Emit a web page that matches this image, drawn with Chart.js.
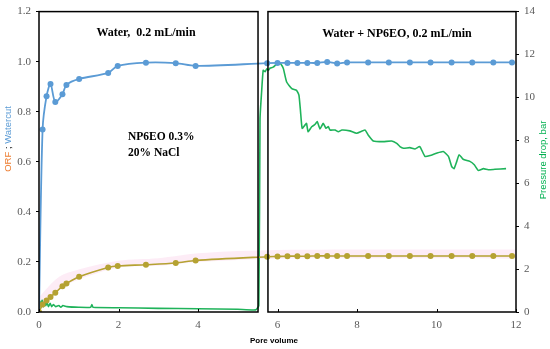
<!DOCTYPE html>
<html><head><meta charset="utf-8">
<script src="https://cdn.jsdelivr.net/npm/chart.js@4/dist/chart.umd.min.js"></script>
<style>html,body{margin:0;padding:0;background:#fff;}canvas{display:block;}</style>
</head><body>
<canvas id="c" width="550" height="349"></canvas>
<script>
// ---- data ----
const xTickValues = [0, 2, 4, 6, 8, 10, 12];
const leftTickValues = [0, 0.2, 0.4, 0.6, 0.8, 1.0, 1.2];
const rightTickValues = [0, 2, 4, 6, 8, 10, 12, 14];

const watercutPV = [0, 0.09, 0.19, 0.29, 0.41, 0.59, 0.69, 1.01, 1.74, 1.98, 2.69, 3.44, 3.94, 5.74, 6.0, 6.25, 6.5, 6.75, 7.0, 7.25, 7.5, 7.75, 8.28, 8.8, 9.33, 9.85, 10.38, 10.9, 11.43, 11.9];
const watercut   = [0, 0.729, 0.862, 0.911, 0.839, 0.870, 0.907, 0.931, 0.955, 0.983, 0.996, 0.994, 0.983, 0.994, 0.995, 0.995, 0.995, 0.995, 0.995, 0.999, 0.993, 0.997, 0.997, 0.997, 0.997, 0.997, 0.997, 0.997, 0.997, 0.997];

const orfPV = [0, 0.09, 0.19, 0.29, 0.41, 0.59, 0.69, 1.01, 1.74, 1.98, 2.69, 3.44, 3.94, 5.74, 6.0, 6.25, 6.5, 6.75, 7.0, 7.25, 7.5, 7.75, 8.28, 8.8, 9.33, 9.85, 10.38, 10.9, 11.43, 11.9];
const orf   = [0, 0.030, 0.046, 0.060, 0.077, 0.103, 0.114, 0.141, 0.178, 0.184, 0.189, 0.196, 0.206, 0.221, 0.222, 0.223, 0.223, 0.223, 0.224, 0.224, 0.224, 0.224, 0.224, 0.224, 0.224, 0.224, 0.224, 0.224, 0.224, 0.224];

const bandPV    = [0, 0.5, 1.0, 2.0, 3.0, 4.0, 6.0, 12.0];
const bandUpper = [0.06, 0.14, 0.17, 0.205, 0.215, 0.235, 0.248, 0.25];
const bandLower = [0.0, 0.09, 0.13, 0.178, 0.185, 0.2, 0.213, 0.213];

const pressurePV = [0, 0.02, 0.05, 0.08, 0.11, 0.14, 0.17, 0.2, 0.24, 0.28, 0.32, 0.36, 0.42, 0.5, 0.55, 0.6, 0.7, 1.0, 1.3, 1.33, 1.36, 2.0, 3.0, 4.0, 5.0, 5.45, 5.53,
  5.56, 5.60, 5.64, 5.69, 5.73, 5.77, 5.81, 5.89, 5.98, 6.05, 6.11, 6.15, 6.23, 6.36, 6.48, 6.54, 6.58, 6.62, 6.69, 6.73, 6.77, 6.86, 6.94, 7.0, 7.07, 7.15, 7.22, 7.28, 7.32, 7.45, 7.53, 7.62, 7.82, 7.99, 8.20, 8.28, 8.41, 8.66, 8.87, 9.0, 9.08, 9.17, 9.33, 9.46, 9.58, 9.71, 9.84, 10.0, 10.17, 10.3, 10.38, 10.44, 10.51, 10.57, 10.67, 10.84, 10.95, 11.05, 11.18, 11.3, 11.47, 11.75];
const pressure = [0, 0.5, 0.3, 0.55, 0.25, 0.5, 0.3, 0.45, 0.25, 0.4, 0.25, 0.35, 0.25, 0.3, 0.22, 0.3, 0.25, 0.22, 0.22, 0.35, 0.22, 0.2, 0.17, 0.15, 0.13, 0.1, 0.3,
  9.0, 10.25, 11.26, 11.2, 11.33, 11.27, 11.36, 11.41, 11.56, 11.6, 11.49, 11.33, 10.72, 10.41, 10.33, 10.1, 9.33, 8.56, 8.71, 8.79, 8.4, 8.63, 8.74, 8.87, 8.53, 8.79, 8.56, 8.64, 8.48, 8.48, 8.40, 8.48, 8.44, 8.33, 8.48, 8.25, 7.97, 7.94, 7.97, 7.86, 7.71, 7.63, 7.66, 7.6, 7.71, 7.25, 7.29, 7.4, 7.48, 7.25, 6.79, 6.68, 7.02, 7.33, 7.12, 7.02, 6.86, 6.6, 6.68, 6.63, 6.65, 6.68];

const boxEdgesPV = [5.51, 5.76];
const label1 = "Water,  0.2 mL/min";
const label2 = "Water + NP6EO, 0.2 mL/min";
const label3 = "NP6EO 0.3%";
const label4 = "20% NaCl";

const pts = (xs, ys) => xs.map((x, i) => ({x: x, y: ys[i]}));

const BLUE = '#5b9bd5', OLIVE = '#b5a232', GREEN = '#1fb35a';

const overlay = {
  id: 'overlay',
  afterDatasetsDraw(chart) {
    const ctx = chart.ctx, a = chart.chartArea, xs = chart.scales.x;
    ctx.save();
    // inward x ticks
    ctx.strokeStyle = '#000'; ctx.lineWidth = 1;
    xTickValues.forEach(v => {
      const px = Math.round(xs.getPixelForValue(v)) + 0.5;
      ctx.beginPath(); ctx.moveTo(px, a.bottom); ctx.lineTo(px, a.bottom - 3); ctx.stroke();
    });
    // boxes
    const e1 = xs.getPixelForValue(boxEdgesPV[0]), e2 = xs.getPixelForValue(boxEdgesPV[1]);
    ctx.lineWidth = 1.5; ctx.strokeStyle = '#000';
    ctx.strokeRect(a.left, a.top, e1 - a.left, a.bottom - a.top);
    ctx.strokeRect(e2, a.top, a.right - e2, a.bottom - a.top);
    // annotations
    ctx.fillStyle = '#000';
    ctx.font = "bold 12px 'Liberation Serif', serif";
    ctx.textBaseline = 'middle'; ctx.textAlign = 'center';
    ctx.fillText(label1, 146, 33);
    ctx.fillText(label2, 397, 34);
    ctx.textAlign = 'left';
    ctx.font = "bold 11.5px 'Liberation Serif', serif";
    ctx.fillText(label3, 128, 137);
    ctx.fillText(label4, 128, 153);
    // x title
    ctx.textAlign = 'center';
    ctx.font = "bold 8px 'Liberation Sans', sans-serif";
    ctx.fillText('Pore volume', 274, 341);
    // left title
    ctx.save();
    ctx.translate(8, 139); ctx.rotate(-Math.PI / 2);
    ctx.font = "9.5px 'Liberation Sans', sans-serif";
    const parts = [['ORF', '#ed7d31'], [' ; ', '#000'], ['Watercut', BLUE]];
    let total = parts.reduce((s, p) => s + ctx.measureText(p[0]).width, 0);
    let cx = -total / 2;
    ctx.textAlign = 'left';
    parts.forEach(p => { ctx.fillStyle = p[1]; ctx.fillText(p[0], cx, 0); cx += ctx.measureText(p[0]).width; });
    ctx.restore();
    // right title
    ctx.save();
    ctx.translate(543, 160); ctx.rotate(-Math.PI / 2);
    ctx.font = "9.5px 'Liberation Sans', sans-serif";
    ctx.fillStyle = '#00b050'; ctx.textAlign = 'center';
    ctx.fillText('Pressure drop, bar', 0, 0);
    ctx.restore();
    ctx.restore();
  }
};

const tickFont = {family: "'Liberation Serif', serif", size: 11};

new Chart(document.getElementById('c'), {
  type: 'line',
  data: {
    datasets: [
      {label: 'Watercut', data: pts(watercutPV, watercut), yAxisID: 'y', borderColor: BLUE, backgroundColor: BLUE,
        borderWidth: 1.8, pointRadius: watercut.map((v, i) => i === 0 ? 0 : 3), pointBorderWidth: 0, tension: 0.3, order: 1},
      {label: 'ORF', data: pts(orfPV, orf), yAxisID: 'y', borderColor: OLIVE, backgroundColor: OLIVE,
        borderWidth: 1.6, pointRadius: 3, pointBorderWidth: 0, tension: 0.3, order: 2},
      {label: 'Pressure', data: pts(pressurePV, pressure), yAxisID: 'y2', borderColor: GREEN,
        borderWidth: 1.6, pointRadius: 0, tension: 0.15, order: 3},
      {label: 'bandU', data: pts(bandPV, bandUpper), yAxisID: 'y', borderWidth: 0, pointRadius: 0, fill: false, tension: 0.3, order: 5},
      {label: 'bandL', data: pts(bandPV, bandLower), yAxisID: 'y', borderWidth: 0, pointRadius: 0, fill: '-1',
        backgroundColor: 'rgba(248,200,228,0.35)', tension: 0.3, order: 4}
    ]
  },
  options: {
    responsive: false, animation: false, devicePixelRatio: 1,
    layout: {padding: {top: 9, left: 0, right: 0, bottom: 0}},
    plugins: {legend: {display: false}, tooltip: {enabled: false}},
    scales: {
      x: {type: 'linear', min: 0, max: 12,
        afterBuildTicks: s => { s.ticks = xTickValues.map(v => ({value: v})); },
        afterFit: s => { s.height = 37; },
        grid: {display: false, drawTicks: false}, border: {display: false},
        ticks: {font: tickFont, color: '#595959', padding: 7}},
      y: {position: 'left', min: 0, max: 1.2,
        afterBuildTicks: s => { s.ticks = leftTickValues.map(v => ({value: v})); },
        afterFit: s => { s.width = 39; },
        grid: {display: true, drawOnChartArea: false, drawTicks: true, tickLength: 3, color: '#000'},
        border: {display: false},
        ticks: {font: tickFont, color: '#595959', padding: 5, callback: v => v.toFixed(1)}},
      y2: {position: 'right', min: 0, max: 14,
        afterBuildTicks: s => { s.ticks = rightTickValues.map(v => ({value: v})); },
        afterFit: s => { s.width = 34; },
        grid: {display: true, drawOnChartArea: false, drawTicks: true, tickLength: 3, color: '#000'},
        border: {display: false},
        ticks: {font: tickFont, color: '#595959', padding: 5}}
    }
  },
  plugins: [overlay]
});
</script>
</body></html>
